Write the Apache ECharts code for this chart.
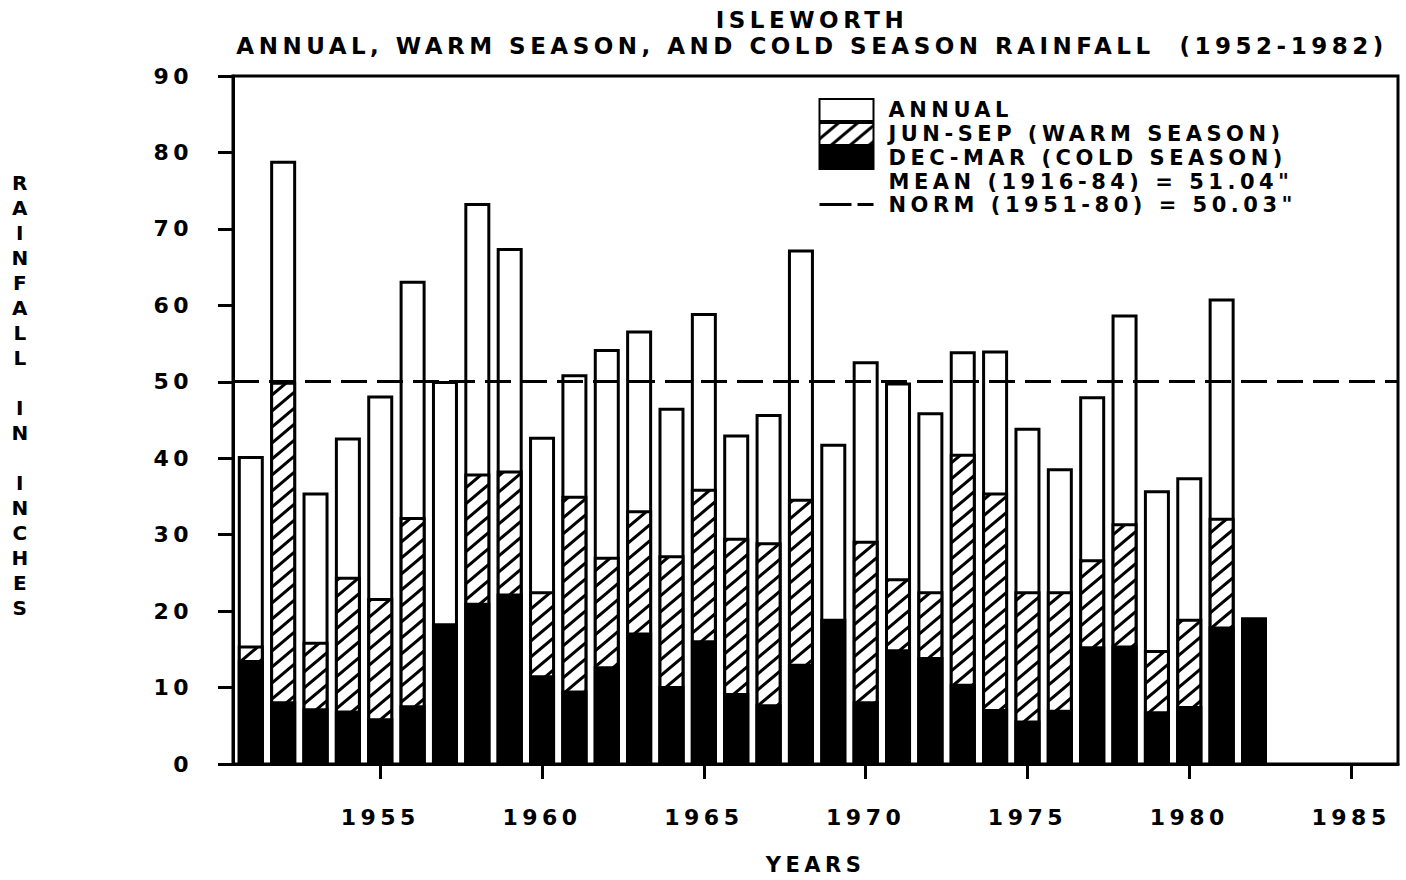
<!DOCTYPE html>
<html>
<head>
<meta charset="utf-8">
<script src="https://cdn.jsdelivr.net/npm/echarts@6/dist/echarts.min.js"></script>
<style>
  html, body { margin: 0; padding: 0; background: #fff; }
  #chart { width: 1406px; height: 880px; }
  /* wide plotter-style lettering */
  #chart text { letter-spacing: 4.5px; }
</style>
</head>
<body>
<div id="chart"></div>
<script>
// Isleworth rainfall, inches
const years = [1951, 1952, 1953, 1954, 1955, 1956, 1957, 1958, 1959, 1960,
               1961, 1962, 1963, 1964, 1965, 1966, 1967, 1968, 1969, 1970,
               1971, 1972, 1973, 1974, 1975, 1976, 1977, 1978, 1979, 1980,
               1981, 1982];
const annual = [40.3, 78.9, 35.5, 42.7, 48.2, 63.2, 50.1, 73.4, 67.5, 42.8,
                51.0, 54.3, 56.7, 46.6, 59.0, 43.1, 45.8, 67.3, 41.9, 52.7,
                49.9, 46.0, 54.0, 54.1, 44.0, 38.7, 48.1, 58.8, 35.8, 37.5,
                60.9, null];
const warmSeason = [15.5, 50.0, 16.0, 24.5, 21.7, 32.3, null, 38.0, 38.4, 22.6,
                    35.1, 27.1, 33.2, 27.3, 36.0, 29.6, 29.0, 34.7, null, 29.2,
                    24.3, 22.6, 40.6, 35.5, 22.6, 22.6, 26.8, 31.5, 14.9, 19.0,
                    32.2, null];
const coldSeason = [13.6, 8.2, 7.3, 7.0, 6.0, 7.7, 18.4, 21.1, 22.3, 11.6,
                    9.6, 12.8, 17.2, 10.2, 16.2, 9.3, 7.8, 13.1, 19.0, 8.2,
                    15.0, 14.0, 10.5, 7.2, 5.7, 7.1, 15.4, 15.5, 6.9, 7.6,
                    18.0, 19.2];
const meanValue = 51.04;   // 1916-84
const normValue = 50.03;   // 1951-80
const yearTicks = [1955, 1960, 1965, 1970, 1975, 1980, 1985];
const xMin = 1950.45;
const xMax = 1986.45;

const NAME_ANNUAL = 'ANNUAL';
const NAME_WARM = 'JUN-SEP (WARM SEASON)';
const NAME_COLD = 'DEC-MAR (COLD SEASON)';
const NAME_MEAN = 'MEAN (1916-84) = ' + meanValue.toFixed(2) + '"';
const NAME_NORM = 'NORM (1951-80) = ' + normValue.toFixed(2) + '"';

const FONT = '"DejaVu Sans", "Liberation Sans", sans-serif';

// vertical axis title, one letter per line (two blank lines at the end lift the block)
const Y_NAME = 'RAINFALL IN INCHES'.split('').map((ch) => (ch === ' ' ? '\u00a0' : ch))
  .concat(['\u00a0', '\u00a0']).join('\n');

// diagonal hatch tile for the warm-season bars
function hatchTile() {
  const w = 19, h = 16;
  const c = document.createElement('canvas');
  c.width = w; c.height = h;
  const g = c.getContext('2d');
  g.fillStyle = '#fff';
  g.fillRect(0, 0, w, h);
  g.strokeStyle = '#000';
  g.lineWidth = 3;
  for (const k of [-w, 0, w]) {
    g.beginPath();
    g.moveTo(k - w * 0.25, h * 1.25);
    g.lineTo(k + w * 1.25, -h * 0.25);
    g.stroke();
  }
  return { image: c, repeat: 'repeat', imageWidth: w, imageHeight: h };
}

const pair = (arr) => years.map((y, i) => [y, arr[i]]);

const chart = echarts.init(document.getElementById('chart'), null, { renderer: 'svg' });

const labelStyle = { fontFamily: FONT, fontWeight: 'bold', fontSize: 22, color: '#000' };

chart.setOption({
  backgroundColor: '#fff',
  animation: false,
  title: {
    text: 'ISLEWORTH\nANNUAL, WARM SEASON, AND COLD SEASON RAINFALL\u00a0 (1952-1982)',
    left: 812,
    top: 7,
    padding: 0,
    textAlign: 'center',
    textStyle: { fontFamily: FONT, fontWeight: 'bold', fontSize: 23, lineHeight: 26, color: '#000' }
  },
  legend: {
    orient: 'vertical',
    left: 818,
    top: 98,
    padding: 0,
    itemWidth: 54,
    itemHeight: 22,
    itemGap: 0,
    selectedMode: false,
    textStyle: Object.assign({}, labelStyle, { fontSize: 21, lineHeight: 18, padding: [5, 0, 0, 10] }),
    data: [
      { name: NAME_ANNUAL, icon: 'rect' },
      { name: NAME_WARM, icon: 'rect' },
      { name: NAME_COLD, icon: 'rect' },
      { name: NAME_MEAN, icon: 'rect', itemStyle: { opacity: 0 } },
      { name: NAME_NORM, itemStyle: { opacity: 0 }, lineStyle: { color: '#000', width: 3, type: [32, 6] } }
    ]
  },
  grid: {
    left: 233, right: 8, top: 76, bottom: 105,
    show: true, borderColor: '#000', borderWidth: 3, backgroundColor: '#fff'
  },
  xAxis: {
    type: 'value',
    min: xMin,
    max: xMax,
    name: 'YEARS',
    nameLocation: 'middle',
    nameGap: 90,
    nameTextStyle: Object.assign({}, labelStyle, { fontSize: 21 }),
    axisLine: { lineStyle: { color: '#000', width: 3 } },
    axisTick: { customValues: yearTicks, length: 15, lineStyle: { color: '#000', width: 3 } },
    axisLabel: Object.assign({
      customValues: yearTicks,
      margin: 42,
      formatter: (v) => String(v)
    }, labelStyle),
    splitLine: { show: false }
  },
  yAxis: {
    type: 'value',
    min: 0,
    max: 90,
    interval: 10,
    name: Y_NAME,
    nameLocation: 'middle',
    nameRotate: 0,
    nameGap: 211,
    nameTextStyle: Object.assign({}, labelStyle, {
      fontSize: 20, lineHeight: 25, align: 'center', verticalAlign: 'middle'
    }),
    axisLine: { lineStyle: { color: '#000', width: 3 } },
    axisTick: { length: 15, lineStyle: { color: '#000', width: 3 } },
    axisLabel: Object.assign({ margin: 40 }, labelStyle),
    splitLine: { show: false }
  },
  series: [
    {
      name: NAME_ANNUAL,
      type: 'bar',
      data: pair(annual),
      barWidth: 26,
      barGap: '-100%',
      z: 2,
      itemStyle: { color: '#fff', borderColor: '#000', borderWidth: 3 }
    },
    {
      name: NAME_WARM,
      type: 'bar',
      data: pair(warmSeason),
      barWidth: 26,
      barGap: '-100%',
      z: 3,
      itemStyle: { color: hatchTile(), borderColor: '#000', borderWidth: 3 }
    },
    {
      name: NAME_COLD,
      type: 'bar',
      data: pair(coldSeason),
      barWidth: 26,
      barGap: '-100%',
      z: 4,
      itemStyle: { color: '#000', borderColor: '#000', borderWidth: 3 }
    },
    {
      name: NAME_MEAN,
      type: 'line',
      data: [],
      symbol: 'none',
      itemStyle: { color: '#000' },
      lineStyle: { color: '#000', width: 0 }
    },
    {
      name: NAME_NORM,
      type: 'line',
      data: [[xMin, normValue], [xMax, normValue]],
      symbol: 'none',
      z: 6,
      itemStyle: { color: '#000' },
      lineStyle: { color: '#000', width: 3, type: [26, 10] }
    }
  ]
});
</script>
</body>
</html>
